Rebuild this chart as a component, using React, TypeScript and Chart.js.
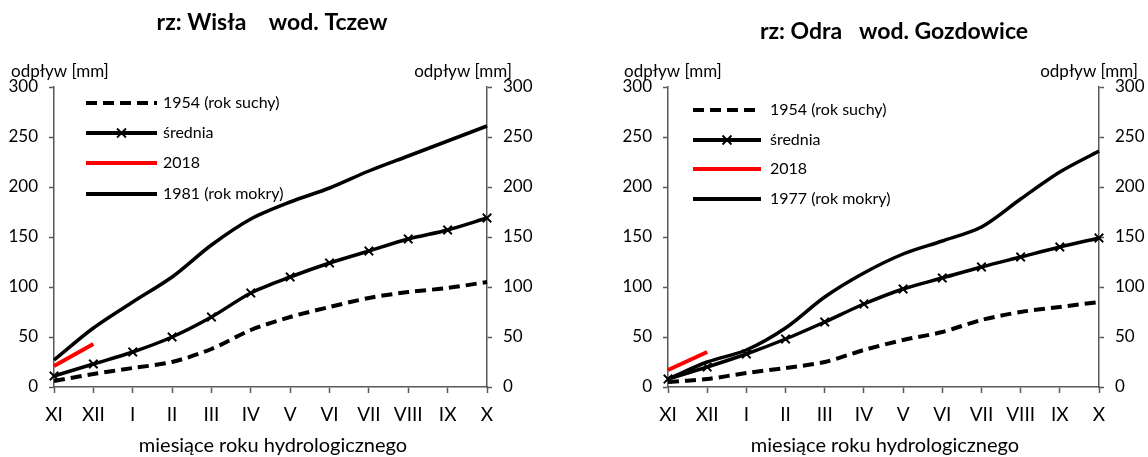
import React, { useEffect, useRef } from 'react';
import { Chart, registerables } from 'chart.js';

Chart.register(...registerables);

const months = ['XI', 'XII', 'I', 'II', 'III', 'IV', 'V', 'VI', 'VII', 'VIII', 'IX', 'X'];

// Wisła – Tczew
const dryWisla = [6, 13, 19, 25, 38, 57, 70, 80, 89, 95, 99, 105];
const meanWisla = [11, 23, 35, 50, 70, 94, 110, 124, 136, 148, 157, 169];
const y2018Wisla = [21, 43];
const wetWisla = [27, 59, 85, 110, 142, 168, 185, 199, 216, 231, 246, 261];

// Odra – Gozdowice
const dryOdra = [5, 8, 14, 19, 25, 37, 47, 55, 67, 75, 80, 85];
const meanOdra = [8, 20, 33, 48, 65, 83, 98, 109, 120, 130, 140, 149];
const y2018Odra = [17, 35];
const wetOdra = [8, 25, 37, 59, 90, 114, 133, 146, 160, 188, 215, 236];

const legendDry = '1954 (rok suchy)';
const legendMean = 'średnia';
const legend2018 = '2018';
const legendWetWisla = '1981 (rok mokry)';
const legendWetOdra = '1977 (rok mokry)';

const titleWisla = 'rz: Wisła    wod. Tczew';
const titleOdra = 'rz: Odra   wod. Gozdowice';
const yTitle = 'odpływ [mm]';
const xTitle = 'miesiące roku hydrologicznego';

const FONT = 'Lato, "Open Sans", sans-serif';
const AXIS = '#595959';

type Layout = {
  areaLeft: number;
  areaRight: number;
  titleX: number;
  titleY: number;
  leftYTitleX: number;
  rightYTitleRight: number;
  xTitleX: number;
  legendX0: number;
  legendX1: number;
  legendTextX: number;
  legendY: number[];
};

type PanelProps = {
  title: string;
  dry: number[];
  mean: number[];
  y2018: number[];
  wet: number[];
  wetLabel: string;
  layout: Layout;
};

function Panel({ title, dry, mean, y2018, wet, wetLabel, layout }: PanelProps) {
  const ref = useRef<HTMLCanvasElement | null>(null);
  useEffect(() => {
    const canvas = ref.current;
    if (!canvas) return;
    const W = 574;
    const textPlugin = {
      id: 'texts',
      afterDraw(chart: any) {
        const ctx = chart.ctx as CanvasRenderingContext2D;
        ctx.save();
        ctx.fillStyle = '#000';
        ctx.font = `bold 23px ${FONT}`;
        ctx.textAlign = 'center';
        ctx.textBaseline = 'middle';
        ctx.fillText(title, layout.titleX, layout.titleY);
        ctx.font = `17px ${FONT}`;
        ctx.textAlign = 'left';
        ctx.fillText(yTitle, layout.leftYTitleX, 72);
        ctx.textAlign = 'right';
        ctx.fillText(yTitle, layout.rightYTitleRight, 72);
        ctx.font = `20px ${FONT}`;
        ctx.textAlign = 'center';
        ctx.fillText(xTitle, layout.xTitleX, 446);
        const items = [
          { label: legendDry, color: '#000', dash: [11, 6], marker: false },
          { label: legendMean, color: '#000', dash: [], marker: true },
          { label: legend2018, color: '#ff0000', dash: [], marker: false },
          { label: wetLabel, color: '#000', dash: [], marker: false },
        ];
        items.forEach((it, i) => {
          const y = layout.legendY[i];
          ctx.beginPath();
          ctx.setLineDash(it.dash);
          ctx.lineWidth = 4;
          ctx.strokeStyle = it.color;
          ctx.lineCap = 'butt';
          ctx.moveTo(layout.legendX0, y);
          ctx.lineTo(layout.legendX1, y);
          ctx.stroke();
          ctx.setLineDash([]);
          if (it.marker) {
            const cx = (layout.legendX0 + layout.legendX1) / 2;
            ctx.lineWidth = 1.8;
            ctx.beginPath();
            ctx.moveTo(cx - 4.5, y - 4.5);
            ctx.lineTo(cx + 4.5, y + 4.5);
            ctx.moveTo(cx + 4.5, y - 4.5);
            ctx.lineTo(cx - 4.5, y + 4.5);
            ctx.stroke();
          }
          ctx.font = `16px ${FONT}`;
          ctx.textAlign = 'left';
          ctx.fillStyle = '#000';
          ctx.fillText(it.label, layout.legendTextX, y);
        });
        ctx.restore();
      },
    };

    const yScale = (pos: 'left' | 'right', width: number) => ({
      position: pos,
      min: 0,
      max: 300,
      ticks: {
        stepSize: 50,
        padding: 11,
        color: '#000',
        font: { family: FONT, size: 17 },
      },
      grid: {
        drawOnChartArea: false,
        drawTicks: true,
        tickLength: 5,
        tickColor: AXIS,
        tickWidth: 1.5,
      },
      border: { display: true, color: AXIS, width: 1.5 },
      afterFit: (s: any) => {
        s.width = width;
      },
    });

    const chart = new Chart(canvas, {
      type: 'line',
      data: {
        labels: months,
        datasets: [
          {
            label: legendDry,
            data: dry,
            borderColor: '#000',
            borderWidth: 4,
            borderDash: [11, 6],
            pointRadius: 0,
            tension: 0.3,
            clip: 8,
            yAxisID: 'y',
          },
          {
            label: legendMean,
            data: mean,
            borderColor: '#000',
            borderWidth: 3.5,
            pointStyle: 'crossRot',
            pointRadius: 6,
            pointBorderWidth: 1.8,
            pointBorderColor: '#000',
            tension: 0.3,
            clip: 8,
            yAxisID: 'y',
          },
          {
            label: legend2018,
            data: y2018,
            borderColor: '#ff0000',
            borderWidth: 4,
            pointRadius: 0,
            tension: 0.3,
            clip: 8,
            yAxisID: 'y',
          },
          {
            label: wetLabel,
            data: wet,
            borderColor: '#000',
            borderWidth: 3.5,
            pointRadius: 0,
            tension: 0.3,
            clip: 8,
            yAxisID: 'y',
          },
        ],
      },
      options: {
        animation: false,
        responsive: false,
        layout: { padding: { top: 87, left: 0, right: 0, bottom: 0 } },
        plugins: { legend: { display: false }, tooltip: { enabled: false }, title: { display: false } },
        scales: {
          x: {
            type: 'category',
            offset: false,
            ticks: {
              autoSkip: false,
              maxRotation: 0,
              padding: 10,
              color: '#000',
              font: { family: FONT, size: 19 },
            },
            grid: {
              offset: false,
              drawOnChartArea: false,
              drawTicks: true,
              tickLength: 6,
              tickColor: AXIS,
              tickWidth: 1.5,
            },
            border: { display: true, color: AXIS, width: 1.5 },
            afterFit: (s: any) => {
              s.height = 70;
            },
          },
          y: yScale('left', layout.areaLeft),
          y2: yScale('right', W - layout.areaRight),
        },
      } as any,
      plugins: [textPlugin],
    });
    return () => chart.destroy();
  }, []);
  return <canvas ref={ref} width={574} height={457} style={{ display: 'block', width: 574, height: 457 }} />;
}

const layoutWisla: Layout = {
  areaLeft: 54,
  areaRight: 487,
  titleX: 272,
  titleY: 23,
  leftYTitleX: 11,
  rightYTitleRight: 512,
  xTitleX: 273,
  legendX0: 86,
  legendX1: 157,
  legendTextX: 163,
  legendY: [103, 133, 163, 194],
};

const layoutOdra: Layout = {
  areaLeft: 94,
  areaRight: 525,
  titleX: 320,
  titleY: 32,
  leftYTitleX: 50,
  rightYTitleRight: 564,
  xTitleX: 311,
  legendX0: 119,
  legendX1: 187,
  legendTextX: 196,
  legendY: [110, 140, 169, 199],
};

export default function App() {
  return (
    <div style={{ position: 'absolute', left: 0, top: 0, width: 1148, height: 457, background: '#fff' }}>
      <div style={{ position: 'absolute', left: 0, top: 0 }}>
        <Panel
          title={titleWisla}
          dry={dryWisla}
          mean={meanWisla}
          y2018={y2018Wisla}
          wet={wetWisla}
          wetLabel={legendWetWisla}
          layout={layoutWisla}
        />
      </div>
      <div style={{ position: 'absolute', left: 574, top: 0 }}>
        <Panel
          title={titleOdra}
          dry={dryOdra}
          mean={meanOdra}
          y2018={y2018Odra}
          wet={wetOdra}
          wetLabel={legendWetOdra}
          layout={layoutOdra}
        />
      </div>
    </div>
  );
}
